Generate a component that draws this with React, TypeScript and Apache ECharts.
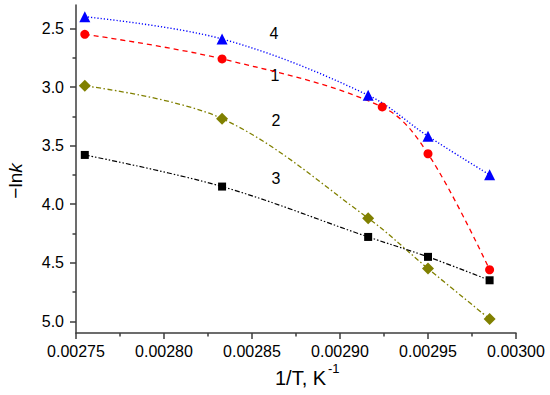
import React, { useEffect, useRef } from 'react';
import * as echarts from 'echarts';

// 1/T values (K^-1)
const invT = [0.002755, 0.002833, 0.002916, 0.00295, 0.002985];
const invTRed = [0.002755, 0.002833, 0.002924, 0.00295, 0.002985];
// -ln k series
const series1 = [2.55, 2.76, 3.17, 3.57, 4.56]; // red circles
const series2 = [2.99, 3.27, 4.12, 4.55, 4.98]; // olive diamonds
const series3 = [3.58, 3.85, 4.28, 4.45, 4.65]; // black squares
const series4 = [2.4, 2.59, 3.07, 3.42, 3.75]; // blue triangles

const xTicks = [0.00275, 0.0028, 0.00285, 0.0029, 0.00295, 0.003];
const xMinorTicks = [0.002775, 0.002825, 0.002875, 0.002925, 0.002975];
const yTicks = [2.5, 3.0, 3.5, 4.0, 4.5, 5.0];
const yMinorTicks = [2.75, 3.25, 3.75, 4.25, 4.75];

const curveLabels = ['4', '1', '2', '3'];

const FONT = '"Liberation Sans", Arial, sans-serif';
const AXIS_COLOR = '#3c3c3c';

function pairs(xs: number[], ys: number[]) {
  return xs.map((x, i) => [x, ys[i]]);
}

export default function App() {
  const ref = useRef<HTMLDivElement>(null);
  useEffect(() => {
    document.body.style.margin = '0';
    if (!ref.current) return;
    const chart = echarts.init(ref.current, undefined, { renderer: 'svg' });
    const xBase = {
      type: 'value',
      min: 0.00275,
      max: 0.003,
      gridIndex: 0,
      splitLine: { show: false },
      axisLine: { show: true, onZero: false, lineStyle: { color: AXIS_COLOR, width: 1.5 } },
    };
    const yBase = {
      type: 'value',
      min: 2.3,
      max: 5.1,
      inverse: true,
      gridIndex: 0,
      splitLine: { show: false },
      axisLine: { show: true, onZero: false, lineStyle: { color: AXIS_COLOR, width: 1.5 } },
    };
    const lbl = [
      { t: curveLabels[0], x: 274, y: 33 },
      { t: curveLabels[1], x: 275, y: 75 },
      { t: curveLabels[2], x: 276, y: 120 },
      { t: curveLabels[3], x: 276, y: 178 },
    ];
    chart.setOption({
      animation: false,
      backgroundColor: '#ffffff',
      textStyle: { fontFamily: FONT },
      grid: { left: 76, right: 34, top: 5, bottom: 62, containLabel: false },
      xAxis: [
        {
          ...xBase,
          axisTick: {
            show: true,
            inside: false,
            length: 6,
            customValues: xTicks,
            lineStyle: { color: AXIS_COLOR, width: 1.5 },
          },
          axisLabel: {
            show: true,
            customValues: xTicks,
            margin: 10,
            fontSize: 16,
            color: '#000',
            fontFamily: FONT,
            formatter: (v: number) => v.toFixed(5),
          },
        },
        {
          ...xBase,
          position: 'bottom',
          axisLine: { show: false },
          axisTick: {
            show: true,
            length: 3.5,
            customValues: xMinorTicks,
            lineStyle: { color: AXIS_COLOR, width: 1.5 },
          },
          axisLabel: { show: false },
        },
      ],
      yAxis: [
        {
          ...yBase,
          axisTick: {
            show: true,
            length: 6,
            customValues: yTicks,
            lineStyle: { color: AXIS_COLOR, width: 1.5 },
          },
          axisLabel: {
            show: true,
            customValues: yTicks,
            margin: 12,
            fontSize: 16,
            color: '#000',
            fontFamily: FONT,
            formatter: (v: number) => v.toFixed(1),
          },
        },
        {
          ...yBase,
          position: 'left',
          axisLine: { show: false },
          axisTick: {
            show: true,
            length: 3.5,
            customValues: yMinorTicks,
            lineStyle: { color: AXIS_COLOR, width: 1.5 },
          },
          axisLabel: { show: false },
        },
      ],
      series: [
        {
          name: '1',
          type: 'line',
          data: pairs(invTRed, series1),
          smooth: 0.35,
          symbol: 'circle',
          symbolSize: 9,
          itemStyle: { color: '#ff0000' },
          lineStyle: { color: '#ff0000', width: 1.3, type: [5, 4] },
        },
        {
          name: '2',
          type: 'line',
          data: pairs(invT, series2),
          smooth: 0.35,
          symbol: 'diamond',
          symbolSize: 12,
          itemStyle: { color: '#808000' },
          lineStyle: { color: '#808000', width: 1.3, type: [5, 2.5, 1.5, 2.5] },
        },
        {
          name: '3',
          type: 'line',
          data: pairs(invT, series3),
          smooth: 0.35,
          symbol: 'rect',
          symbolSize: 8,
          itemStyle: { color: '#000000' },
          lineStyle: { color: '#000000', width: 1.2, type: [5, 2, 1.5, 2, 1.5, 2] },
        },
        {
          name: '4',
          type: 'line',
          data: pairs(invT, series4),
          smooth: 0.35,
          symbol: 'triangle',
          symbolSize: 11,
          itemStyle: { color: '#0000ff' },
          lineStyle: { color: '#0000ff', width: 1.4, type: [1.2, 2] },
        },
      ],
      graphic: [
        ...lbl.map((l) => ({
          type: 'text',
          x: l.x,
          y: l.y,
          style: {
            text: l.t,
            fontSize: 16,
            fontFamily: FONT,
            fill: '#000',
            align: 'center',
            verticalAlign: 'middle',
          },
        })),
        {
          type: 'text',
          x: 275,
          y: 378,
          style: {
            text: '1/T, K',
            fontSize: 20,
            fontFamily: FONT,
            fill: '#000',
            align: 'left',
            verticalAlign: 'middle',
          },
        },
        {
          type: 'text',
          x: 328,
          y: 368,
          style: {
            text: '-1',
            fontSize: 13,
            fontFamily: FONT,
            fill: '#000',
            align: 'left',
            verticalAlign: 'middle',
          },
        },
        {
          type: 'text',
          x: 15,
          y: 181,
          rotation: Math.PI / 2,
          style: {
            text: '\u2212ln{k|k}',
            fontSize: 19,
            fontFamily: FONT,
            fill: '#000',
            align: 'center',
            verticalAlign: 'middle',
            rich: {
              k: { fontSize: 19, fontStyle: 'italic', fontFamily: FONT, fill: '#000' },
            },
          },
        },
      ],
    });
    return () => chart.dispose();
  }, []);
  return <div ref={ref} style={{ width: 550, height: 395 }} />;
}
